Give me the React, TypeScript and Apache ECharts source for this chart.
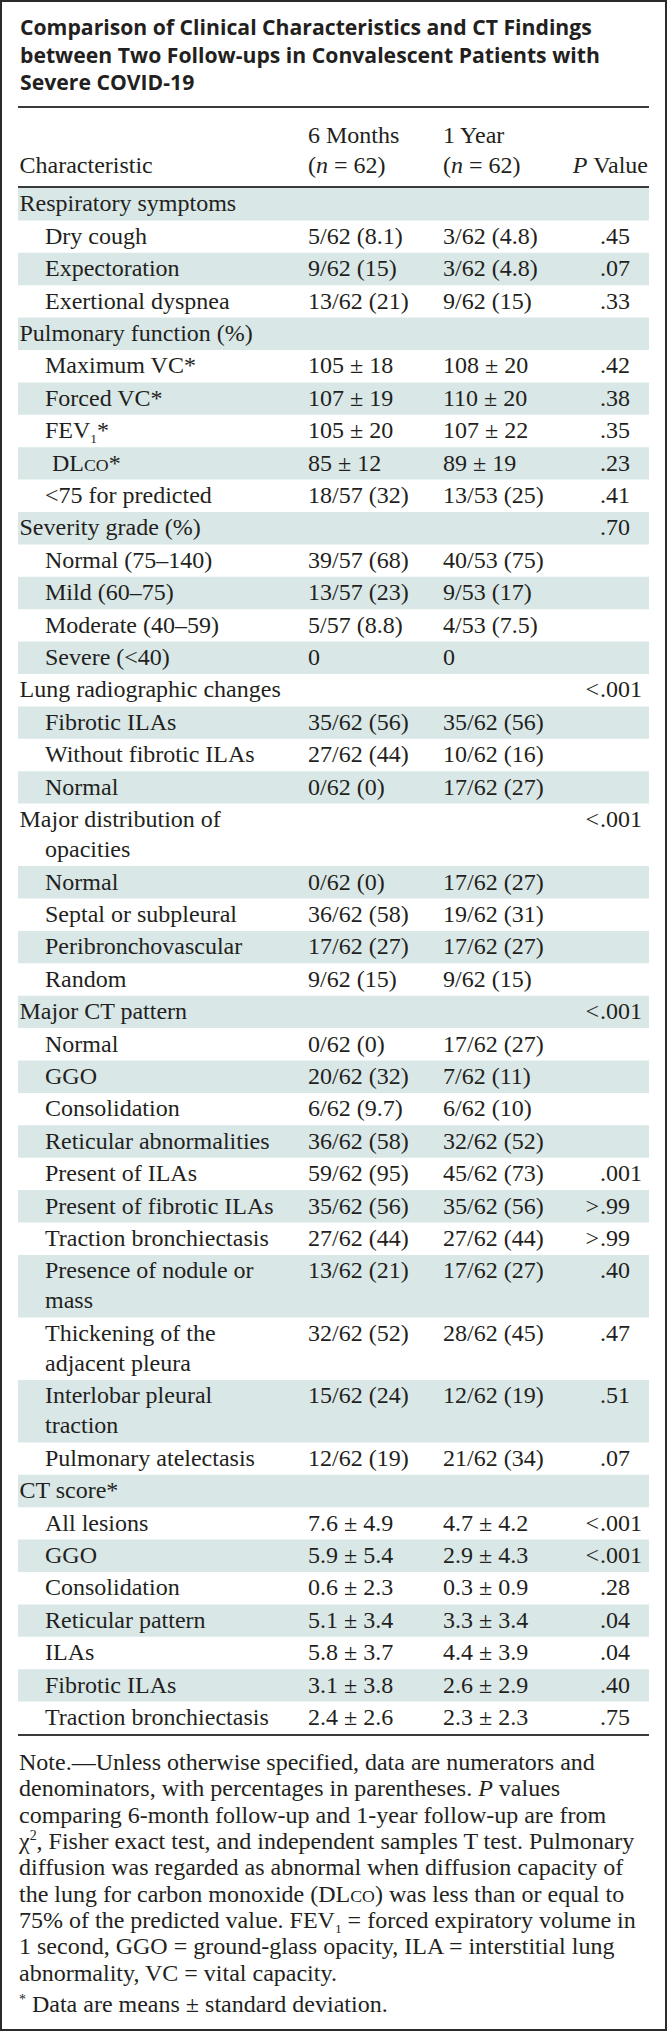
import React, { useEffect, useRef } from "react";
import * as echarts from "echarts";

// ---------------- data ----------------
const titleLines = [
  "Comparison of Clinical Characteristics and CT Findings",
  "between Two Follow-ups in Convalescent Patients with",
  "Severe COVID-19",
];

const headerTop = ["", "6 Months", "1 Year", ""];
const headerBottom = ["Characteristic", "({i|n} = 62)", "({i|n} = 62)", "{i|P} Value"];

const characteristics = [
  "Respiratory symptoms", "Dry cough", "Expectoration", "Exertional dyspnea",
  "Pulmonary function (%)", "Maximum VC*", "Forced VC*", "FEV{sub|1}*", "DL{sc|CO}*", "<75 for predicted",
  "Severity grade (%)", "Normal (75–140)", "Mild (60–75)", "Moderate (40–59)", "Severe (<40)",
  "Lung radiographic changes", "Fibrotic ILAs", "Without fibrotic ILAs", "Normal",
  "Major distribution of\nopacities", "Normal", "Septal or subpleural", "Peribronchovascular", "Random",
  "Major CT pattern", "Normal", "GGO", "Consolidation", "Reticular abnormalities", "Present of ILAs",
  "Present of fibrotic ILAs", "Traction bronchiectasis", "Presence of nodule or\nmass",
  "Thickening of the\nadjacent pleura", "Interlobar pleural\ntraction", "Pulmonary atelectasis",
  "CT score*", "All lesions", "GGO", "Consolidation", "Reticular pattern", "ILAs", "Fibrotic ILAs",
  "Traction bronchiectasis",
];

// 0 = section heading, 1 = item, 2 = item with extra indent
const levels = [
  0, 1, 1, 1,
  0, 1, 1, 1, 2, 1,
  0, 1, 1, 1, 1,
  0, 1, 1, 1,
  0, 1, 1, 1, 1,
  0, 1, 1, 1, 1, 1, 1, 1, 1, 1, 1, 1,
  0, 1, 1, 1, 1, 1, 1, 1,
];

const sixMonths = [
  "", "5/62 (8.1)", "9/62 (15)", "13/62 (21)",
  "", "105 ± 18", "107 ± 19", "105 ± 20", "85 ± 12", "18/57 (32)",
  "", "39/57 (68)", "13/57 (23)", "5/57 (8.8)", "0",
  "", "35/62 (56)", "27/62 (44)", "0/62 (0)",
  "", "0/62 (0)", "36/62 (58)", "17/62 (27)", "9/62 (15)",
  "", "0/62 (0)", "20/62 (32)", "6/62 (9.7)", "36/62 (58)", "59/62 (95)", "35/62 (56)", "27/62 (44)",
  "13/62 (21)", "32/62 (52)", "15/62 (24)", "12/62 (19)",
  "", "7.6 ± 4.9", "5.9 ± 5.4", "0.6 ± 2.3", "5.1 ± 3.4", "5.8 ± 3.7", "3.1 ± 3.8", "2.4 ± 2.6",
];

const oneYear = [
  "", "3/62 (4.8)", "3/62 (4.8)", "9/62 (15)",
  "", "108 ± 20", "110 ± 20", "107 ± 22", "89 ± 19", "13/53 (25)",
  "", "40/53 (75)", "9/53 (17)", "4/53 (7.5)", "0",
  "", "35/62 (56)", "10/62 (16)", "17/62 (27)",
  "", "17/62 (27)", "19/62 (31)", "17/62 (27)", "9/62 (15)",
  "", "17/62 (27)", "7/62 (11)", "6/62 (10)", "32/62 (52)", "45/62 (73)", "35/62 (56)", "27/62 (44)",
  "17/62 (27)", "28/62 (45)", "12/62 (19)", "21/62 (34)",
  "", "4.7 ± 4.2", "2.9 ± 4.3", "0.3 ± 0.9", "3.3 ± 3.4", "4.4 ± 3.9", "2.6 ± 2.9", "2.3 ± 2.3",
];

const pValues = [
  "", ".45", ".07", ".33",
  "", ".42", ".38", ".35", ".23", ".41",
  ".70", "", "", "", "",
  "<.001", "", "", "",
  "<.001", "", "", "", "",
  "<.001", "", "", "", "", ".001", ">.99", ">.99", ".40", ".47", ".51", ".07",
  "", "<.001", "<.001", ".28", ".04", ".04", ".40", ".75",
];

const noteLines = [
  "Note.—Unless otherwise specified, data are numerators and",
  "denominators, with percentages in parentheses. {i|P} values",
  "comparing 6-month follow-up and 1-year follow-up are from",
  "χ{sup|2}, Fisher exact test, and independent samples T test. Pulmonary",
  "diffusion was regarded as abnormal when diffusion capacity of",
  "the lung for carbon monoxide (DL{sc|CO}) was less than or equal to",
  "75% of the predicted value. FEV{sub|1} = forced expiratory volume in",
  "1 second, GGO = ground-glass opacity, ILA = interstitial lung",
  "abnormality, VC = vital capacity.",
];
const footnote = "{sup|*} Data are means ± standard deviation.";

// ---------------- layout ----------------
const W = 667;
const H = 2031;
const TABLE_L = 18;
const TABLE_R = 649;
const COL2_X = 308;
const COL3_X = 443;
const DEC_X = 600;
const INDENTS = [19.5, 45, 52];
const CONT_INDENT = 45;
const BODY_TOP = 188;
const ROW_PAD = 2.3;
const LINE_STEP = 30.1;
const BASE_OFF = 23.5;
const TOP_RULE = 107;
const HEAD_RULE = 187;
const HEAD_BASE1 = 143;
const HEAD_BASE2 = 173;
const TITLE_X = 20;
const TITLE_W = 572;
const TITLE_BASES = [32.5, 60.5, 87.5];
const NOTE_X = 19;
const NOTE_MAX_W = 622;
const NOTE_BASE = 1770;
const NOTE_STEP = 26.35;
const FOOT_BASE = 2012.5;

const TEXT = "#231f20";
const RULE = "#3b3b3b";
const BAND = "#d9e7e7";

const SERIF = "'Liberation Serif', serif";
const SANS = "'Open Sans', sans-serif";

type F = { size: number; family: string; style: string; weight: string | number; dy: number };

const canvasCtx = (() => {
  const c = document.createElement("canvas");
  return c.getContext("2d") as CanvasRenderingContext2D;
})();

function measure(text: string, f: F) {
  canvasCtx.font = `${f.style} ${f.weight} ${f.size}px ${f.family}`;
  return canvasCtx.measureText(text).width;
}

function centralOffset(family: string) {
  return family === SANS ? 0.3 : 0.3375;
}

function parseRuns(s: string) {
  const runs: { text: string; kind: string }[] = [];
  const re = /\{(\w+)\|([^}]*)\}/g;
  let last = 0;
  let m: RegExpExecArray | null;
  while ((m = re.exec(s))) {
    if (m.index > last) runs.push({ text: s.slice(last, m.index), kind: "n" });
    runs.push({ text: m[2], kind: m[1] });
    last = m.index + m[0].length;
  }
  if (last < s.length) runs.push({ text: s.slice(last), kind: "n" });
  return runs;
}

function runFont(kind: string, base: F): F {
  switch (kind) {
    case "i":
      return { ...base, style: "italic", dy: 0 };
    case "sub":
      return { ...base, size: base.size * 0.56, dy: base.size * 0.2 };
    case "sup":
      return { ...base, size: base.size * 0.58, dy: -base.size * 0.36 };
    case "sc":
      return { ...base, size: base.size * 0.74, dy: 0 };
    default:
      return { ...base, dy: 0 };
  }
}

function lineWidth(s: string, base: F) {
  return parseRuns(s).reduce((a, r) => a + measure(r.text, runFont(r.kind, base)), 0);
}

function addText(els: any[], s: string, x: number, baseline: number, base: F, align = "left", fill = TEXT) {
  const runs = parseRuns(s).map((r) => ({ ...r, f: runFont(r.kind, base) }));
  const widths = runs.map((r) => measure(r.text, r.f));
  const total = widths.reduce((a, b) => a + b, 0);
  let cx = align === "right" ? x - total : align === "center" ? x - total / 2 : x;
  runs.forEach((r, i) => {
    const lead = r.text.match(/^\s*/)![0];
    const body = r.text.slice(lead.length);
    const lx = cx + (lead ? measure(lead, r.f) : 0);
    if (body.length) {
      els.push({
        type: "text",
        x: lx,
        y: baseline + r.f.dy - centralOffset(r.f.family) * r.f.size,
        silent: true,
        style: {
          text: body,
          fontSize: r.f.size,
          fontFamily: r.f.family,
          fontStyle: r.f.style,
          fontWeight: r.f.weight,
          fill,
          align: "left",
          verticalAlign: "middle",
        },
      });
    }
    cx += widths[i];
  });
}

function hline(els: any[], y: number, w = 2) {
  els.push({
    type: "line",
    silent: true,
    shape: { x1: TABLE_L, y1: y, x2: TABLE_R, y2: y },
    style: { stroke: RULE, lineWidth: w },
  });
}

function buildElements() {
  const els: any[] = [];
  const body: F = { size: 24, family: SERIF, style: "normal", weight: "normal", dy: 0 };
  const note: F = { size: 24, family: SERIF, style: "normal", weight: "normal", dy: 0 };
  const title0: F = { size: 10, family: SANS, style: "normal", weight: 700, dy: 0 };
  const titleSize = (10 * TITLE_W) / lineWidth(titleLines[0], title0);
  const title: F = { ...title0, size: titleSize };

  els.push({ type: "rect", silent: true, shape: { x: 0, y: 0, width: W, height: H }, style: { fill: "#fff" } });

  // title
  titleLines.forEach((t, i) => addText(els, t, TITLE_X, TITLE_BASES[i], title));

  // rows
  let y = BODY_TOP;
  characteristics.forEach((label, i) => {
    const lines = label.split("\n");
    const h = ROW_PAD + (lines.length - 1) * LINE_STEP + 30.1;
    if (i % 2 === 0) {
      els.push({ type: "rect", silent: true, shape: { x: TABLE_L, y, width: TABLE_R - TABLE_L, height: h }, style: { fill: BAND } });
    }
    const base = y + BASE_OFF;
    lines.forEach((ln, k) => {
      const x = k === 0 ? INDENTS[levels[i]] : CONT_INDENT;
      addText(els, ln, x, base + k * LINE_STEP, body);
    });
    if (sixMonths[i]) addText(els, sixMonths[i], COL2_X, base, body);
    if (oneYear[i]) addText(els, oneYear[i], COL3_X, base, body);
    const p = pValues[i];
    if (p) {
      const d = p.indexOf(".");
      const pre = p.slice(0, d);
      const rest = p.slice(d);
      if (pre) addText(els, pre, DEC_X - 1, base, body, "right");
      addText(els, rest, DEC_X, base, body);
    }
    y += h;
  });
  const bodyEnd = y;

  // header
  addText(els, headerTop[1], COL2_X, HEAD_BASE1, body);
  addText(els, headerTop[2], COL3_X, HEAD_BASE1, body);
  addText(els, headerBottom[0], INDENTS[0], HEAD_BASE2, body);
  addText(els, headerBottom[1], COL2_X, HEAD_BASE2, body);
  addText(els, headerBottom[2], COL3_X, HEAD_BASE2, body);
  addText(els, headerBottom[3], TABLE_R - 1, HEAD_BASE2, body, "right");

  // rules
  hline(els, TOP_RULE);
  hline(els, HEAD_RULE);
  hline(els, bodyEnd + 1);

  // notes: shrink a line only if it would run past the table's right edge
  noteLines.forEach((t, i) => {
    const w = lineWidth(t, note);
    const f = w > NOTE_MAX_W ? { ...note, size: (note.size * NOTE_MAX_W) / w } : note;
    addText(els, t, NOTE_X, NOTE_BASE + i * NOTE_STEP, f);
  });
  addText(els, footnote, NOTE_X, FOOT_BASE, note);

  // frame
  els.push({
    type: "rect",
    silent: true,
    shape: { x: 1, y: 1, width: W - 2, height: H - 2 },
    style: { fill: "none", stroke: "#2b2b2b", lineWidth: 2 },
  });
  return els;
}

export default function App() {
  const ref = useRef<HTMLDivElement>(null);
  useEffect(() => {
    document.body.style.margin = "0";
    const chart = echarts.init(ref.current as HTMLDivElement, null, { renderer: "svg", width: W, height: H });
    chart.setOption({ animation: false, graphic: { elements: buildElements() } });
    return () => chart.dispose();
  }, []);
  return (
    <div
      ref={ref}
      style={{ width: W, height: H, position: "absolute", left: 0, top: 0, background: "#fff" }}
    />
  );
}
